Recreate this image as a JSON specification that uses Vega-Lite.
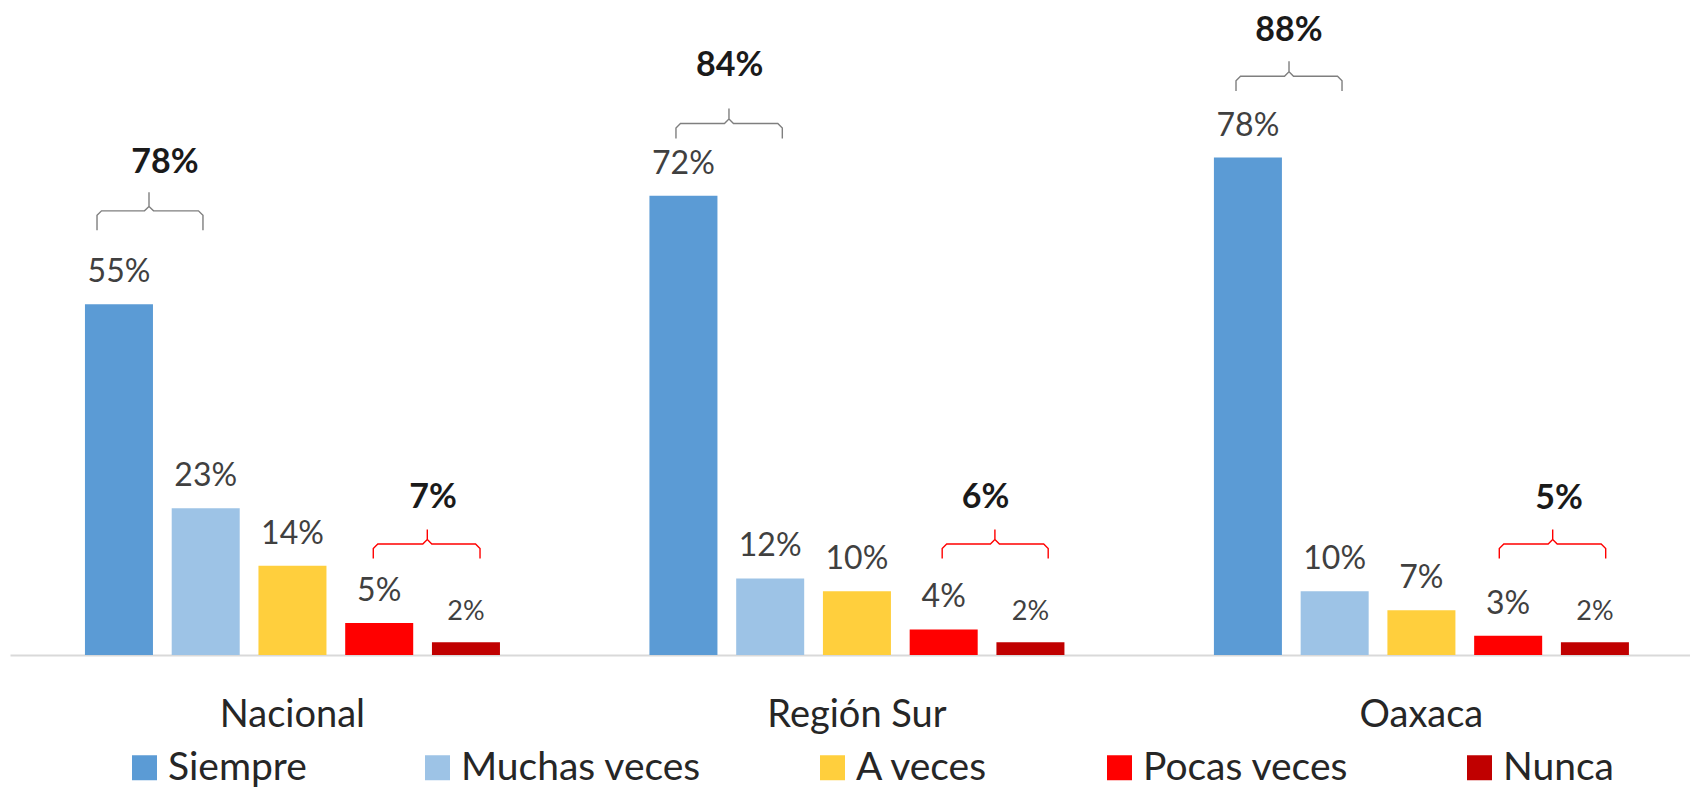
{
  "$schema": "https://vega.github.io/schema/vega-lite/v6.json",
  "width": 1680,
  "height": 655,
  "autosize": {"type": "none"},
  "padding": {"left": 10, "top": 0, "right": 0, "bottom": 136},
  "background": "#ffffff",
  "config": {"font": "Lato", "view": {"stroke": null}},
  "datasets": {
    "barras": [
      {"region": "Nacional", "serie": "Siempre", "valor": 0.55},
      {"region": "Nacional", "serie": "Muchas veces", "valor": 0.23},
      {"region": "Nacional", "serie": "A veces", "valor": 0.14},
      {"region": "Nacional", "serie": "Pocas veces", "valor": 0.05},
      {"region": "Nacional", "serie": "Nunca", "valor": 0.02},
      {"region": "Región Sur", "serie": "Siempre", "valor": 0.72},
      {"region": "Región Sur", "serie": "Muchas veces", "valor": 0.12},
      {"region": "Región Sur", "serie": "A veces", "valor": 0.10},
      {"region": "Región Sur", "serie": "Pocas veces", "valor": 0.04},
      {"region": "Región Sur", "serie": "Nunca", "valor": 0.02},
      {"region": "Oaxaca", "serie": "Siempre", "valor": 0.78},
      {"region": "Oaxaca", "serie": "Muchas veces", "valor": 0.10},
      {"region": "Oaxaca", "serie": "A veces", "valor": 0.07},
      {"region": "Oaxaca", "serie": "Pocas veces", "valor": 0.03},
      {"region": "Oaxaca", "serie": "Nunca", "valor": 0.02}
    ],
    "llaves": [
      {"llave": "g1", "tipo": "positivo", "k": 1, "bx": -0.3463, "by": 0.6661},
      {"llave": "g1", "tipo": "positivo", "k": 2, "bx": -0.3463, "by": 0.6894},
      {"llave": "g1", "tipo": "positivo", "k": 3, "bx": -0.3383, "by": 0.6964},
      {"llave": "g1", "tipo": "positivo", "k": 4, "bx": -0.2622, "by": 0.6964},
      {"llave": "g1", "tipo": "positivo", "k": 5, "bx": -0.2542, "by": 0.7034},
      {"llave": "g1", "tipo": "positivo", "k": 6, "bx": -0.2542, "by": 0.7257},
      {"llave": "g1", "tipo": "positivo", "k": 7, "bx": -0.2542, "by": 0.7034},
      {"llave": "g1", "tipo": "positivo", "k": 8, "bx": -0.2462, "by": 0.6964},
      {"llave": "g1", "tipo": "positivo", "k": 9, "bx": -0.1666, "by": 0.6964},
      {"llave": "g1", "tipo": "positivo", "k": 10, "bx": -0.1586, "by": 0.6894},
      {"llave": "g1", "tipo": "positivo", "k": 11, "bx": -0.1586, "by": 0.6661},
      {"llave": "g2", "tipo": "positivo", "k": 1, "bx": 0.6793, "by": 0.8099},
      {"llave": "g2", "tipo": "positivo", "k": 2, "bx": 0.6793, "by": 0.8264},
      {"llave": "g2", "tipo": "positivo", "k": 3, "bx": 0.6873, "by": 0.8334},
      {"llave": "g2", "tipo": "positivo", "k": 4, "bx": 0.7652, "by": 0.8334},
      {"llave": "g2", "tipo": "positivo", "k": 5, "bx": 0.7732, "by": 0.8404},
      {"llave": "g2", "tipo": "positivo", "k": 6, "bx": 0.7732, "by": 0.8569},
      {"llave": "g2", "tipo": "positivo", "k": 7, "bx": 0.7732, "by": 0.8404},
      {"llave": "g2", "tipo": "positivo", "k": 8, "bx": 0.7812, "by": 0.8334},
      {"llave": "g2", "tipo": "positivo", "k": 9, "bx": 0.8597, "by": 0.8334},
      {"llave": "g2", "tipo": "positivo", "k": 10, "bx": 0.8677, "by": 0.8264},
      {"llave": "g2", "tipo": "positivo", "k": 11, "bx": 0.8677, "by": 0.8099},
      {"llave": "g3", "tipo": "positivo", "k": 1, "bx": 1.6714, "by": 0.8845},
      {"llave": "g3", "tipo": "positivo", "k": 2, "bx": 1.6714, "by": 0.9005},
      {"llave": "g3", "tipo": "positivo", "k": 3, "bx": 1.6794, "by": 0.9075},
      {"llave": "g3", "tipo": "positivo", "k": 4, "bx": 1.7573, "by": 0.9075},
      {"llave": "g3", "tipo": "positivo", "k": 5, "bx": 1.7653, "by": 0.9145},
      {"llave": "g3", "tipo": "positivo", "k": 6, "bx": 1.7653, "by": 0.9310},
      {"llave": "g3", "tipo": "positivo", "k": 7, "bx": 1.7653, "by": 0.9145},
      {"llave": "g3", "tipo": "positivo", "k": 8, "bx": 1.7733, "by": 0.9075},
      {"llave": "g3", "tipo": "positivo", "k": 9, "bx": 1.8512, "by": 0.9075},
      {"llave": "g3", "tipo": "positivo", "k": 10, "bx": 1.8592, "by": 0.9005},
      {"llave": "g3", "tipo": "positivo", "k": 11, "bx": 1.8592, "by": 0.8845},
      {"llave": "r1", "tipo": "negativo", "k": 1, "bx": 0.1431, "by": 0.1513},
      {"llave": "r1", "tipo": "negativo", "k": 2, "bx": 0.1431, "by": 0.1670},
      {"llave": "r1", "tipo": "negativo", "k": 3, "bx": 0.1511, "by": 0.1740},
      {"llave": "r1", "tipo": "negativo", "k": 4, "bx": 0.2308, "by": 0.1740},
      {"llave": "r1", "tipo": "negativo", "k": 5, "bx": 0.2388, "by": 0.1810},
      {"llave": "r1", "tipo": "negativo", "k": 6, "bx": 0.2388, "by": 0.1967},
      {"llave": "r1", "tipo": "negativo", "k": 7, "bx": 0.2388, "by": 0.1810},
      {"llave": "r1", "tipo": "negativo", "k": 8, "bx": 0.2468, "by": 0.1740},
      {"llave": "r1", "tipo": "negativo", "k": 9, "bx": 0.3242, "by": 0.1740},
      {"llave": "r1", "tipo": "negativo", "k": 10, "bx": 0.3322, "by": 0.1670},
      {"llave": "r1", "tipo": "negativo", "k": 11, "bx": 0.3322, "by": 0.1513},
      {"llave": "r2", "tipo": "negativo", "k": 1, "bx": 1.1509, "by": 0.1513},
      {"llave": "r2", "tipo": "negativo", "k": 2, "bx": 1.1509, "by": 0.1670},
      {"llave": "r2", "tipo": "negativo", "k": 3, "bx": 1.1589, "by": 0.1740},
      {"llave": "r2", "tipo": "negativo", "k": 4, "bx": 1.2363, "by": 0.1740},
      {"llave": "r2", "tipo": "negativo", "k": 5, "bx": 1.2443, "by": 0.1810},
      {"llave": "r2", "tipo": "negativo", "k": 6, "bx": 1.2443, "by": 0.1967},
      {"llave": "r2", "tipo": "negativo", "k": 7, "bx": 1.2443, "by": 0.1810},
      {"llave": "r2", "tipo": "negativo", "k": 8, "bx": 1.2523, "by": 0.1740},
      {"llave": "r2", "tipo": "negativo", "k": 9, "bx": 1.3307, "by": 0.1740},
      {"llave": "r2", "tipo": "negativo", "k": 10, "bx": 1.3387, "by": 0.1670},
      {"llave": "r2", "tipo": "negativo", "k": 11, "bx": 1.3387, "by": 0.1513},
      {"llave": "r3", "tipo": "negativo", "k": 1, "bx": 2.1378, "by": 0.1513},
      {"llave": "r3", "tipo": "negativo", "k": 2, "bx": 2.1378, "by": 0.1670},
      {"llave": "r3", "tipo": "negativo", "k": 3, "bx": 2.1458, "by": 0.1740},
      {"llave": "r3", "tipo": "negativo", "k": 4, "bx": 2.2244, "by": 0.1740},
      {"llave": "r3", "tipo": "negativo", "k": 5, "bx": 2.2324, "by": 0.1810},
      {"llave": "r3", "tipo": "negativo", "k": 6, "bx": 2.2324, "by": 0.1967},
      {"llave": "r3", "tipo": "negativo", "k": 7, "bx": 2.2324, "by": 0.1810},
      {"llave": "r3", "tipo": "negativo", "k": 8, "bx": 2.2404, "by": 0.1740},
      {"llave": "r3", "tipo": "negativo", "k": 9, "bx": 2.3183, "by": 0.1740},
      {"llave": "r3", "tipo": "negativo", "k": 10, "bx": 2.3263, "by": 0.1670},
      {"llave": "r3", "tipo": "negativo", "k": 11, "bx": 2.3263, "by": 0.1513}
    ],
    "totales": [
      {"region": "Nacional", "grupo": "Siempre + Muchas veces", "total": 0.78, "bx": -0.2259, "by": 0.7560},
      {"region": "Región Sur", "grupo": "Siempre + Muchas veces", "total": 0.84, "bx": 0.7744, "by": 0.9075},
      {"region": "Oaxaca", "grupo": "Siempre + Muchas veces", "total": 0.88, "bx": 1.7653, "by": 0.9629},
      {"region": "Nacional", "grupo": "Pocas veces + Nunca", "total": 0.07, "bx": 0.2489, "by": 0.2309},
      {"region": "Región Sur", "grupo": "Pocas veces + Nunca", "total": 0.06, "bx": 1.2276, "by": 0.2309},
      {"region": "Oaxaca", "grupo": "Pocas veces + Nunca", "total": 0.05, "bx": 2.2436, "by": 0.2285}
    ]
  },
  "layer": [
    {
      "data": {"name": "barras"},
      "encoding": {
        "x": {
          "field": "region", "type": "nominal",
          "sort": ["Nacional", "Región Sur", "Oaxaca"],
          "scale": {"paddingInner": 0.2648, "paddingOuter": 0.1205, "align": 0.551},
          "axis": {
            "title": null, "ticks": false, "tickSize": 0, "labelAngle": 0,
            "labelFontSize": 38, "labelColor": "#262626", "labelBaseline": "alphabetic",
            "labelPadding": 71, "domainColor": "#d9d9d9", "domainWidth": 2, "grid": false
          }
        },
        "xOffset": {
          "field": "serie", "type": "nominal",
          "sort": ["Siempre", "Muchas veces", "A veces", "Pocas veces", "Nunca"],
          "scale": {"paddingInner": 0.216, "paddingOuter": 0}
        },
        "y": {
          "field": "valor", "type": "quantitative",
          "scale": {"domain": [0, 1.027], "nice": false, "zero": true},
          "axis": null
        }
      },
      "layer": [
        {
          "mark": {"type": "bar"},
          "encoding": {
            "color": {
              "field": "serie", "type": "nominal",
              "sort": ["Siempre", "Muchas veces", "A veces", "Pocas veces", "Nunca"],
              "scale": {
                "domain": ["Siempre", "Muchas veces", "A veces", "Pocas veces", "Nunca"],
                "range": ["#5B9BD5", "#9DC3E6", "#FFCF3D", "#FF0000", "#C00000"]
              },
              "legend": {
                "title": null, "orient": "none", "direction": "horizontal", "columns": 5,
                "legendX": 115, "legendY": 748, "padding": 0,
                "symbolType": "square", "symbolSize": 625, "symbolStrokeWidth": 0,
                "labelFontSize": 39, "labelColor": "#262626", "labelOffset": 4,
                "labelLimit": 600, "columnPadding": 111
              }
            }
          }
        },
        {
          "mark": {"type": "text", "baseline": "alphabetic", "align": "center", "dy": -22, "color": "#404040"},
          "encoding": {
            "text": {"field": "valor", "type": "quantitative", "format": ".0%"},
            "size": {"condition": {"test": "datum.serie === 'Nunca'", "value": 27}, "value": 32}
          }
        }
      ]
    },
    {
      "layer": [
        {
          "data": {"name": "llaves"},
          "transform": [{"filter": "datum.tipo === 'positivo'"}],
          "mark": {"type": "line", "color": "#7f7f7f", "strokeWidth": 1.4, "interpolate": "linear"},
          "encoding": {
            "x": {"field": "bx", "type": "quantitative", "scale": {"domain": [-0.50044, 2.47564], "nice": false, "zero": false}, "axis": null},
            "y": {"field": "by", "type": "quantitative", "scale": {"domain": [0, 1.027], "nice": false, "zero": true}, "axis": null},
            "detail": {"field": "llave", "type": "nominal"},
            "order": {"field": "k", "type": "quantitative"}
          }
        },
        {
          "data": {"name": "llaves"},
          "transform": [{"filter": "datum.tipo === 'negativo'"}],
          "mark": {"type": "line", "color": "#FF0000", "strokeWidth": 1.4, "interpolate": "linear"},
          "encoding": {
            "x": {"field": "bx", "type": "quantitative", "scale": {"domain": [-0.50044, 2.47564], "nice": false, "zero": false}, "axis": null},
            "y": {"field": "by", "type": "quantitative", "scale": {"domain": [0, 1.027], "nice": false, "zero": true}, "axis": null},
            "detail": {"field": "llave", "type": "nominal"},
            "order": {"field": "k", "type": "quantitative"}
          }
        },
        {
          "data": {"name": "totales"},
          "mark": {"type": "text", "baseline": "alphabetic", "align": "center", "fontWeight": "bold", "fontSize": 34, "color": "#1a1a1a"},
          "encoding": {
            "x": {"field": "bx", "type": "quantitative", "scale": {"domain": [-0.50044, 2.47564], "nice": false, "zero": false}, "axis": null},
            "y": {"field": "by", "type": "quantitative", "scale": {"domain": [0, 1.027], "nice": false, "zero": true}, "axis": null},
            "text": {"field": "total", "type": "quantitative", "format": ".0%"}
          }
        }
      ]
    }
  ],
  "resolve": {"scale": {"x": "independent"}}
}
